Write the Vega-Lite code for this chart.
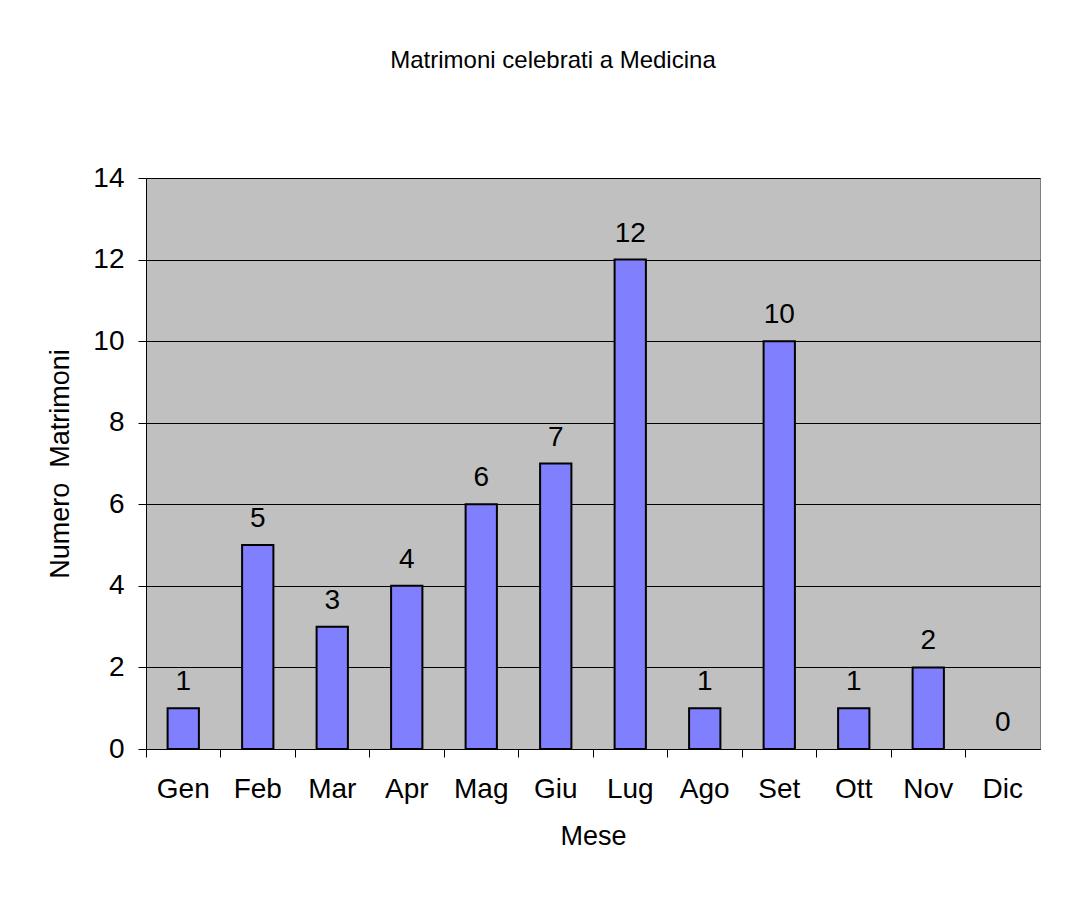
{
  "$schema": "https://vega.github.io/schema/vega-lite/v6.json",
  "autosize": {"type": "none"},
  "padding": {"left": 146, "top": 178, "right": 37, "bottom": 155},
  "width": 894,
  "height": 571,
  "background": "white",
  "title": {
    "text": "Matrimoni celebrati a Medicina",
    "fontSize": 24,
    "fontWeight": "normal",
    "font": "Liberation Sans",
    "color": "black",
    "anchor": "middle",
    "baseline": "alphabetic",
    "offset": 72,
    "dx": -40
  },
  "data": {
    "values": [
      {"mese": "Gen", "n": 1},
      {"mese": "Feb", "n": 5},
      {"mese": "Mar", "n": 3},
      {"mese": "Apr", "n": 4},
      {"mese": "Mag", "n": 6},
      {"mese": "Giu", "n": 7},
      {"mese": "Lug", "n": 12},
      {"mese": "Ago", "n": 1},
      {"mese": "Set", "n": 10},
      {"mese": "Ott", "n": 1},
      {"mese": "Nov", "n": 2},
      {"mese": "Dic", "n": 0}
    ]
  },
  "encoding": {
    "x": {
      "field": "mese",
      "type": "nominal",
      "sort": null,
      "scale": {"paddingInner": 0, "paddingOuter": 0},
      "axis": {
        "title": "Mese",
        "labelAngle": 0,
        "bandPosition": 0,
        "ticks": true,
        "tickSize": 8,
        "tickColor": "black",
        "domainColor": "black",
        "labelFontSize": 28,
        "labelPadding": 18,
        "titleFontSize": 27,
        "titlePadding": 20,
        "grid": false
      }
    },
    "y": {
      "field": "n",
      "type": "quantitative",
      "scale": {"domain": [0, 14], "nice": false},
      "axis": {
        "title": "Numero\u00a0 Matrimoni",
        "values": [0, 2, 4, 6, 8, 10, 12, 14],
        "grid": true,
        "gridColor": "black",
        "gridOpacity": 1,
        "tickSize": 8,
        "tickColor": "black",
        "domainColor": "black",
        "labelFontSize": 28,
        "labelPadding": 14,
        "titleFontSize": 27,
        "titlePadding": 18
      }
    }
  },
  "layer": [
    {
      "transform": [{"filter": "datum.n > 0"}],
      "mark": {"type": "bar", "fill": "#8080FF", "stroke": "black", "strokeWidth": 2, "width": {"band": 0.42}}
    },
    {
      "mark": {"type": "text", "fontSize": 28, "font": "Liberation Sans", "baseline": "alphabetic", "dy": -18, "color": "black"},
      "encoding": {"text": {"field": "n", "type": "quantitative"}}
    }
  ],
  "config": {
    "font": "Liberation Sans",
    "view": {"fill": "#C0C0C0", "stroke": "#808080", "strokeWidth": 1},
    "axis": {
      "labelFont": "Liberation Sans",
      "titleFont": "Liberation Sans",
      "labelColor": "black",
      "titleColor": "black",
      "titleFontWeight": "normal",
      "domainWidth": 1,
      "tickWidth": 1
    }
  }
}
